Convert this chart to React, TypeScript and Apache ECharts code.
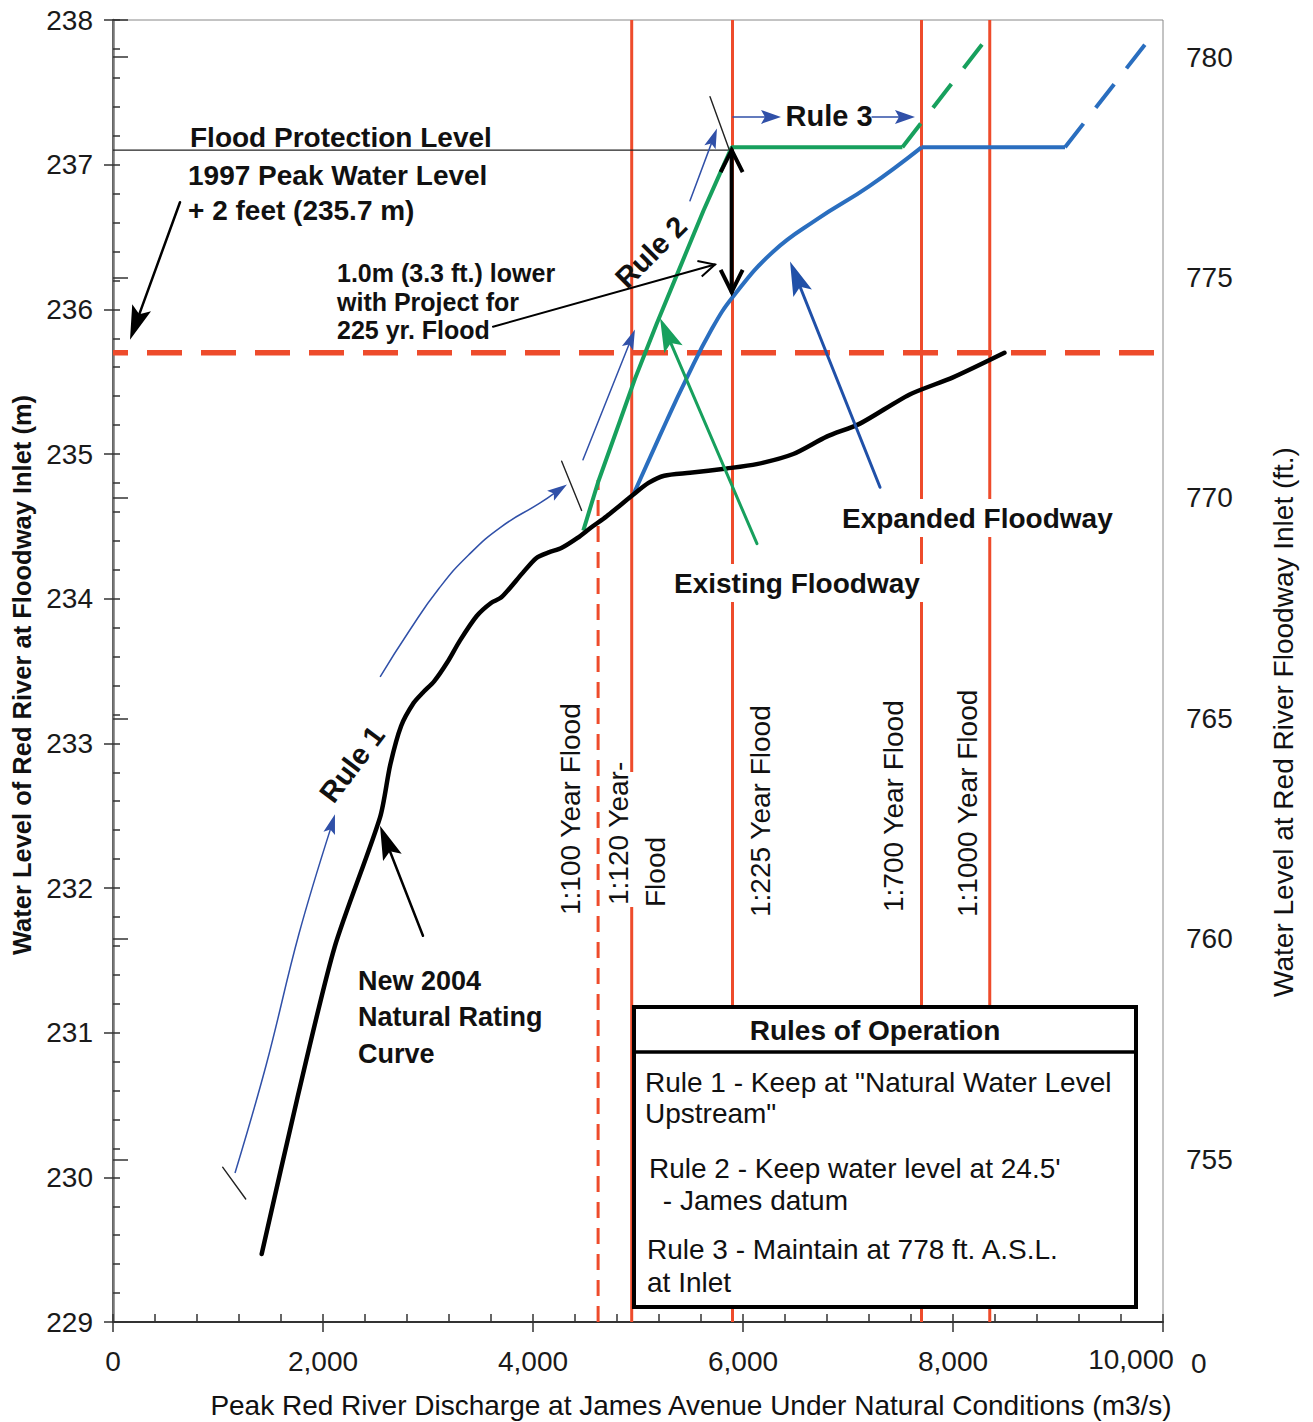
import React, { useEffect, useRef } from 'react';
import * as echarts from 'echarts';

// ---------- data ----------
const xTickValues = [0, 2000, 4000, 6000, 8000, 10000];
const yTickValuesM = [229, 230, 231, 232, 233, 234, 235, 236, 237, 238];
const yTickValuesFt = [755, 760, 765, 770, 775, 780];

// New 2004 natural rating curve (discharge m3/s, level m)
const naturalX = [1416, 1750, 2110, 2544, 2640, 2744, 2864, 2950, 3060, 3184, 3304, 3464, 3600, 3700, 3904, 4030, 4150, 4270, 4424, 4550, 4702, 4956, 5100, 5250, 5495, 5844, 6130, 6479, 6797, 7114, 7583, 8000, 8490];
const naturalY = [229.47, 230.53, 231.59, 232.49, 232.85, 233.12, 233.28, 233.35, 233.43, 233.56, 233.71, 233.88, 233.97, 234.01, 234.18, 234.28, 234.32, 234.35, 234.42, 234.49, 234.57, 234.72, 234.80, 234.85, 234.87, 234.90, 234.93, 235.00, 235.12, 235.21, 235.41, 235.53, 235.70];

// Existing floodway
const existingX = [4479, 4622, 4829, 4971, 5178, 5400, 5622, 5781, 5892, 7518];
const existingY = [234.47, 234.81, 235.23, 235.52, 235.90, 236.29, 236.68, 236.94, 237.12, 237.12];
const existingExtX = [7518, 8340];
const existingExtY = [237.12, 237.89];

// Expanded floodway
const expandedX = [4956, 5273, 5448, 5700, 5908, 6289, 6700, 7200, 7700];
const expandedY = [234.72, 235.23, 235.50, 235.86, 236.09, 236.40, 236.62, 236.85, 237.12];
const expandedFlatX = [7700, 9067];
const expandedFlatY = [237.12, 237.12];
const expandedExtX = [9067, 9892];
const expandedExtY = [237.12, 237.89];

// Flood frequency lines (discharge)
const floodLineX = [4620, 4940, 5900, 7700, 8350];
const floodLineTop = [234.82, 238, 238, 238, 238];
const floodLineDashed = [true, false, false, false, false];

const designLevel = 235.7; // 1997 peak + 2 ft
const protectionLevel = 237.1;
const protectionEndX = 5900;

// annotation arrows in data coordinates
const arrowFloodLevel = [[638, 236.74], [162, 235.79]];
const arrow1m = [[3619, 235.88], [5733, 236.31]];
const doubleArrow = [[5892, 237.10], [5892, 236.12]];
const blueRule2a = [[4476, 234.96], [4971, 235.86]];
const blueRule2b = [[5495, 236.75], [5752, 237.25]];
const slashTop = [[5686, 237.47], [5876, 237.09]];
const slashMid = [[4273, 234.95], [4463, 234.61]];
const slashBot = [[1044, 230.07], [1264, 229.85]];
const blueRule1a = [[1162, 230.03], [1460, 230.78], [1770, 231.68], [2114, 232.51]];
const blueRule1b = [[2544, 233.46], [2824, 233.78], [3104, 234.07], [3384, 234.30], [3704, 234.50], [4064, 234.66], [4324, 234.79]];
const rule3a = [[5905, 237.33], [6362, 237.33]];
const rule3b = [[7229, 237.33], [7638, 237.33]];
const greenArrow = [[6133, 234.38], [5210, 235.94]];
const blueArrow = [[7305, 234.77], [6448, 236.33]];
const blackNewArrow = [[2952, 231.67], [2543, 232.43]];

const floodLabels = ['1:100 Year Flood', '1:120 Year-', 'Flood', '1:225 Year Flood', '1:700 Year Flood', '1:1000 Year Flood'];
const ruleLines = [
  'Rule 1 - Keep at "Natural Water Level',
  'Upstream"',
  "Rule 2 - Keep water level at 24.5'",
  ' - James datum',
  'Rule 3 - Maintain at 778 ft. A.S.L.',
  'at Inlet',
];

const FONT = "'Liberation Sans', Arial, Helvetica, sans-serif";
const RED = '#ee4b2b';
const GREEN = '#17a05d';
const BLUE = '#2a6ebf';
const THIN_BLUE = '#3050a8';

const zip = (xs: number[], ys: number[]) => xs.map((x, i) => [x, ys[i]]);

function txt(text: string, x: number, y: number, o: any = {}) {
  const align = o.align || 'left';
  const vAlign = o.vAlign || 'middle';
  const style: any = {
    text,
    fill: o.fill || '#111',
    font: `${o.bold ? 'bold ' : ''}${o.size || 28}px ${FONT}`,
    align,
    verticalAlign: vAlign,
    textAlign: align,
    textVerticalAlign: vAlign,
  };
  if (o.bg) {
    style.backgroundColor = o.bg;
    style.padding = o.padding || 0;
  }
  return { type: 'text', x, y, rotation: o.rot || 0, z: o.z || 120, silent: true, style };
}

export default function App() {
  const ref = useRef<HTMLDivElement>(null);
  useEffect(() => {
    if (!ref.current) return;
    const chart = echarts.init(ref.current, null, { renderer: 'svg' });

    const series: any[] = [];
    floodLineX.forEach((x, i) => {
      series.push({
        type: 'line', symbol: 'none', z: 1, silent: true,
        data: [[x, 229], [x, floodLineTop[i]]],
        lineStyle: { color: RED, width: 3, type: floodLineDashed[i] ? [16, 10] : 'solid' },
      });
    });
    series.push({
      type: 'line', symbol: 'none', z: 2, silent: true,
      data: [[0, designLevel], [10000, designLevel]],
      lineStyle: { color: RED, width: 5.5, type: [35, 19], dashOffset: 20 },
    });
    series.push({
      type: 'line', symbol: 'none', z: 2, silent: true,
      data: [[0, protectionLevel], [protectionEndX, protectionLevel]],
      lineStyle: { color: '#222', width: 1.2 },
    });
    series.push({
      type: 'line', symbol: 'none', z: 4, silent: true,
      data: zip(existingX, existingY),
      lineStyle: { color: GREEN, width: 4 },
    });
    series.push({
      type: 'line', symbol: 'none', z: 4, silent: true,
      data: zip(existingExtX, existingExtY),
      lineStyle: { color: GREEN, width: 4, type: [30, 20] },
    });
    series.push({
      type: 'line', symbol: 'none', z: 4, silent: true, smooth: 0.45,
      data: zip(expandedX, expandedY),
      lineStyle: { color: BLUE, width: 4 },
    });
    series.push({
      type: 'line', symbol: 'none', z: 4, silent: true,
      data: zip(expandedFlatX, expandedFlatY),
      lineStyle: { color: BLUE, width: 4 },
    });
    series.push({
      type: 'line', symbol: 'none', z: 4, silent: true,
      data: zip(expandedExtX, expandedExtY),
      lineStyle: { color: BLUE, width: 4, type: [30, 20] },
    });
    series.push({
      type: 'line', symbol: 'none', z: 5, silent: true, smooth: 0.25,
      data: zip(naturalX, naturalY),
      lineStyle: { color: '#000', width: 4.5, cap: 'round' },
    });
    const refSeries = series.length - 1;

    const tickStyle = { color: '#333', width: 1.5 };
    const option: any = {
      animation: false,
      backgroundColor: '#ffffff',
      grid: { left: 113, right: 150, top: 20, bottom: 100, show: true, borderColor: '#888', borderWidth: 1, backgroundColor: 'transparent' },
      xAxis: [
        {
          type: 'value', min: 0, max: 10000, interval: 2000,
          axisLine: { show: true, lineStyle: { color: '#333', width: 2 } },
          axisTick: { show: true, inside: false, length: 10, lineStyle: tickStyle },
          axisLabel: {
            fontSize: 28, color: '#1a1a1a', fontFamily: FONT, margin: 25,
            formatter: (v: number) => (xTickValues.includes(v) && v !== 10000 ? v.toLocaleString('en-US') : ''),
          },
          splitLine: { show: false },
        },
        {
          type: 'value', min: 0, max: 10000, interval: 400, position: 'bottom',
          axisLine: { show: false },
          axisTick: { show: true, inside: true, length: 8, lineStyle: tickStyle },
          axisLabel: { show: false }, splitLine: { show: false },
        },
      ],
      yAxis: [
        {
          type: 'value', min: 229, max: 238, interval: 1, position: 'left',
          axisLine: { show: true, lineStyle: { color: '#333', width: 2 } },
          axisTick: { show: true, inside: false, length: 9, lineStyle: tickStyle },
          axisLabel: {
            fontSize: 28, color: '#1a1a1a', fontFamily: FONT, margin: 20,
            formatter: (v: number) => (yTickValuesM.includes(v) ? String(v) : ''),
          },
          splitLine: { show: false },
        },
        {
          type: 'value', position: 'right', min: 229 / 0.3048, max: 238 / 0.3048, splitNumber: 6,
          axisLine: { show: true, lineStyle: { color: '#777', width: 2.5 } },
          axisTick: { show: true, inside: false, length: 15, lineStyle: tickStyle },
          axisLabel: {
            fontSize: 28, color: '#1a1a1a', fontFamily: FONT, margin: 23,
            formatter: (v: number) => {
              const r = Math.round(v);
              return Math.abs(v - r) < 1e-6 && yTickValuesFt.includes(r) ? String(r) : '';
            },
          },
          splitLine: { show: false },
        },
        {
          type: 'value', min: 229, max: 238, interval: 0.2, position: 'left',
          axisLine: { show: false },
          axisTick: { show: true, inside: true, length: 7, lineStyle: tickStyle },
          axisLabel: { show: false }, splitLine: { show: false },
        },
      ],
      series,
    };
    chart.setOption(option);

    const px = (p: number[]) => chart.convertToPixel({ seriesIndex: refSeries }, p) as number[];

    const els: any[] = [];
    const seg = (a: number[], b: number[], color: string, w: number) => {
      els.push({ type: 'line', z: 100, silent: true, shape: { x1: a[0], y1: a[1], x2: b[0], y2: b[1] }, style: { stroke: color, lineWidth: w, lineCap: 'round' } });
    };
    const head = (tip: number[], from: number[], len: number, hw: number, color: string, kind: string, w: number) => {
      const dx = tip[0] - from[0], dy = tip[1] - from[1];
      const L = Math.hypot(dx, dy) || 1;
      const ux = dx / L, uy = dy / L;
      const bx = tip[0] - ux * len, by = tip[1] - uy * len;
      const nx = -uy, ny = ux;
      const p1 = [bx + nx * hw, by + ny * hw];
      const p2 = [bx - nx * hw, by - ny * hw];
      if (kind === 'filled') {
        els.push({ type: 'polygon', z: 101, silent: true, shape: { points: [tip, p1, [tip[0] - ux * len * 0.8, tip[1] - uy * len * 0.8], p2] }, style: { fill: color } });
        return [tip[0] - ux * len * 0.7, tip[1] - uy * len * 0.7];
      }
      els.push({ type: 'polyline', z: 101, silent: true, shape: { points: [p1, tip, p2] }, style: { stroke: color, lineWidth: w, fill: null, lineJoin: 'miter' } });
      return tip;
    };
    const arrow = (dataPts: number[][], color: string, w: number, len: number, hw: number, kind = 'filled', both = false, smooth = 0) => {
      const pts = dataPts.map(px);
      const n = pts.length;
      const end = head(pts[n - 1], pts[n - 2], len, hw, color, kind, w);
      const linePts = pts.slice();
      linePts[n - 1] = end;
      if (both) linePts[0] = head(pts[0], pts[1], len, hw, color, kind, w);
      if (n === 2) seg(linePts[0], linePts[1], color, w);
      else els.push({ type: 'polyline', z: 100, silent: true, shape: { points: linePts, smooth }, style: { stroke: color, lineWidth: w, fill: null } });
    };
    const slash = (d: number[][]) => seg(px(d[0]), px(d[1]), '#222', 1.4);

    arrow(arrowFloodLevel, '#000', 2.5, 34, 10);
    arrow(arrow1m, '#000', 2, 16, 8, 'open');
    arrow(doubleArrow, '#000', 4, 22, 11, 'open', true);
    arrow(blueRule2a, THIN_BLUE, 1.5, 20, 6);
    arrow(blueRule2b, THIN_BLUE, 1.5, 20, 6);
    arrow(blueRule1a, THIN_BLUE, 1.5, 20, 6, 'filled', false, 0.4);
    arrow(blueRule1b, THIN_BLUE, 1.5, 20, 6, 'filled', false, 0.5);
    arrow(rule3a, THIN_BLUE, 1.5, 20, 7);
    arrow(rule3b, THIN_BLUE, 1.5, 20, 7);
    arrow(greenArrow, GREEN, 3, 34, 10);
    arrow(blueArrow, '#2050a8', 3, 34, 10);
    arrow(blackNewArrow, '#000', 2.5, 34, 10);
    slash(slashTop);
    slash(slashMid);
    slash(slashBot);

    // text annotations
    els.push(txt('Flood Protection Level', 190, 137, { bold: true, size: 28 }));
    els.push(txt('1997 Peak Water Level', 188, 175, { bold: true, size: 28 }));
    els.push(txt('+ 2 feet (235.7 m)', 188, 210, { bold: true, size: 28 }));
    els.push(txt('1.0m (3.3 ft.) lower', 337, 273, { bold: true, size: 25 }));
    els.push(txt('with Project for', 337, 302, { bold: true, size: 25 }));
    els.push(txt('225 yr. Flood', 337, 330, { bold: true, size: 25 }));
    els.push(txt('Rule 3', 829, 116, { bold: true, size: 29, align: 'center' }));
    els.push(txt('Rule 2', 651, 252, { bold: true, size: 29, align: 'center', rot: (45 * Math.PI) / 180 }));
    els.push(txt('Rule 1', 352, 764, { bold: true, size: 29, align: 'center', rot: (53 * Math.PI) / 180 }));
    els.push(txt('Expanded Floodway', 835, 518, { bold: true, size: 28, bg: '#fff', padding: [5, 6, 5, 7] }));
    els.push(txt('Existing Floodway', 667, 583, { bold: true, size: 28, bg: '#fff', padding: [5, 12, 5, 7] }));
    els.push(txt('New 2004', 358, 981, { bold: true, size: 27 }));
    els.push(txt('Natural Rating', 358, 1017, { bold: true, size: 27 }));
    els.push(txt('Curve', 358, 1054, { bold: true, size: 27 }));

    // white patch behind the 1:120 label (interrupts the 1:120 line as in the source)
    els.push({ type: 'rect', z: 115, silent: true, shape: { x: 604, y: 772, width: 32, height: 135 }, style: { fill: '#fff' } });

    // flood frequency labels (vertical)
    const vx = [570, 618, 655, 760, 893, 967];
    const vb = [915, 905, 907, 917, 912, 917];
    floodLabels.forEach((t, i) => {
      els.push(txt(t, vx[i], vb[i], { size: 28, rot: Math.PI / 2, align: 'left' }));
    });

    // rules of operation box
    els.push({ type: 'rect', z: 110, silent: true, shape: { x: 634, y: 1007, width: 502, height: 300 }, style: { fill: '#fff', stroke: '#000', lineWidth: 4 } });
    els.push({ type: 'line', z: 111, silent: true, shape: { x1: 634, y1: 1052, x2: 1136, y2: 1052 }, style: { stroke: '#000', lineWidth: 3.5 } });
    els.push(txt('Rules of Operation', 875, 1030, { bold: true, size: 28, align: 'center', z: 112 }));
    const rx = [645, 645, 649, 655, 647, 647];
    const ry = [1082, 1113, 1168, 1200, 1249, 1282];
    ruleLines.forEach((t, i) => els.push(txt(t, rx[i], ry[i], { size: 28, z: 112 })));

    // axis titles
    els.push(txt('Water Level of Red River at Floodway Inlet (m)', 22, 675, { bold: true, size: 25.5, align: 'center', rot: Math.PI / 2 }));
    els.push(txt('Water Level at Red River Floodway Inlet (ft.)', 1283, 722, { size: 28, align: 'center', rot: Math.PI / 2 }));
    els.push(txt('Peak Red River Discharge at James Avenue Under Natural Conditions (m3/s)', 691, 1405, { size: 28, align: 'center' }));
    els.push(txt('10,000', 1131, 1359, { size: 28, align: 'center', fill: '#1a1a1a' }));
    els.push(txt('0', 1191, 1363, { size: 28, align: 'left', fill: '#1a1a1a' }));

    chart.setOption({ graphic: { elements: els } });
    return () => chart.dispose();
  }, []);

  return <div ref={ref} style={{ position: 'absolute', left: 0, top: 0, width: 1313, height: 1422, background: '#fff' }} />;
}
